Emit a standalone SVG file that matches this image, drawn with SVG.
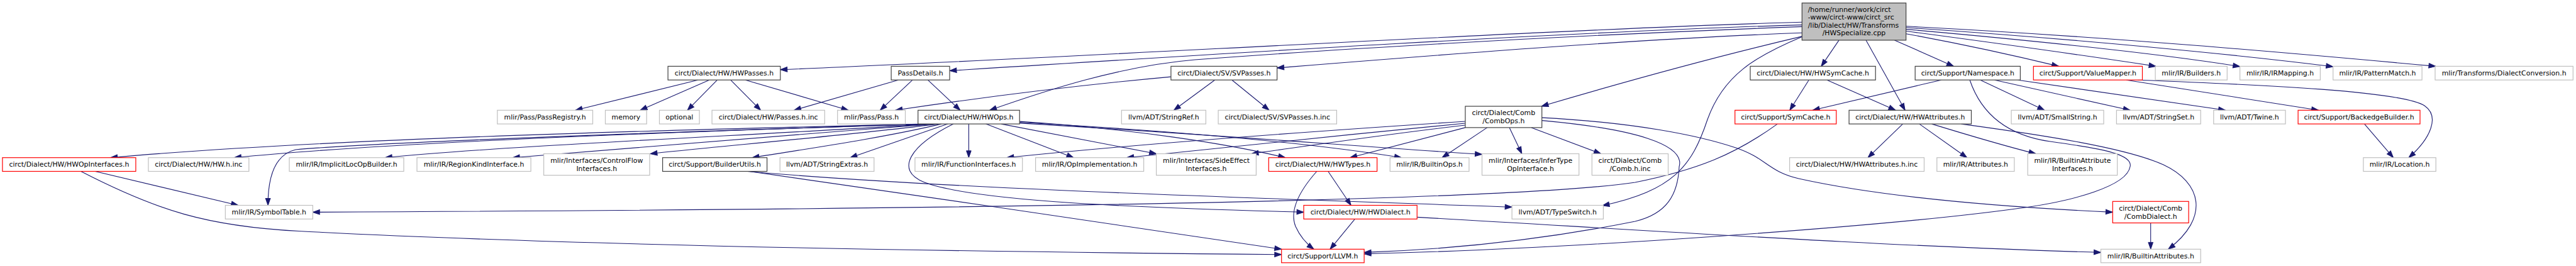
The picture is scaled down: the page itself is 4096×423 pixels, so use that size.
<svg xmlns="http://www.w3.org/2000/svg" width="4096" height="423" viewBox="0 0 4096 423">
<defs>
<style>
.e{fill:none;stroke:#191970;stroke-width:1.1;marker-end:url(#ah)}
rect{fill:#fff;stroke-width:1.2}
.g rect{stroke:#bfbfbf}
.b rect{stroke:#404040}
.r rect{stroke:#ff0000}
.top rect{fill:#bfbfbf;stroke:#404040}
text{font-family:"DejaVu Sans","Liberation Sans",sans-serif;font-size:10.9px;fill:#000;text-anchor:middle}
.l{text-anchor:start}
</style>
<marker id="ah" markerWidth="12" markerHeight="9" refX="10.9" refY="3.8" orient="auto" markerUnits="userSpaceOnUse" overflow="visible"><path d="M0,0L10.9,3.8L0,7.6z" fill="#191970" stroke="#191970" stroke-width="1"/></marker>
</defs>
<rect x="0" y="0" width="4096" height="423" fill="#fff" stroke="none"/>
<g id="edges">
<path class="e" d="M2924.1,63.9 L2895.9,105.4"/>
<path class="e" d="M2967.1,63.9 L3029.2,175.3"/>
<path class="e" d="M3012.5,63.9 L3106.4,105.4"/>
<path class="e" d="M3030.7,53.7 C3120,70 3210,90 3273.5,105.4"/>
<path class="e" d="M3030.7,49.5 C3200,72 3340,92 3428,105.4"/>
<path class="e" d="M3030.7,46.6 C3250,66 3450,88 3561.6,105.8"/>
<path class="e" d="M3030.7,43.8 C3300,62 3550,86 3709.7,106"/>
<path class="e" d="M3030.7,41.8 C3350,58 3650,85 3872.9,105.4"/>
<path class="e" d="M2865.3,35.3 C2500,45 1700,92 1240.8,110.8"/>
<path class="e" d="M2865.3,39.6 C2500,50 1900,88 1510,112.5"/>
<path class="e" d="M2865.3,42.4 C2450,58 2100,80 1900,95 C1780,105 1660,145 1573.7,175.3"/>
<path class="e" d="M2865.3,52.3 C2600,62 2280,88 2030.6,108"/>
<path class="e" d="M2865.3,57.9 C2750,85 2600,125 2451,169"/>
<path class="e" d="M2865.3,58.5 C2790,90 2740,120 2715,190 C2690,265 2660,303 2548,327"/>
<path class="e" d="M1109.6,127.2 L915,175.3"/>
<path class="e" d="M1127.8,127.2 L1018,175.3"/>
<path class="e" d="M1140.5,127.2 L1093,175.3"/>
<path class="e" d="M1161.7,127.2 L1209.6,175.3"/>
<path class="e" d="M1185.3,127.2 L1348.9,175.3"/>
<path class="e" d="M1451,127.2 L1399.5,175.3"/>
<path class="e" d="M1475.3,127.2 L1526.7,175.3"/>
<path class="e" d="M1428.3,127.2 L1262.6,175.3"/>
<path class="e" d="M1861.9,122.1 C1720,135 1560,155 1423.8,175.3"/>
<path class="e" d="M1931.6,127.2 L1866.5,175.3"/>
<path class="e" d="M1958.9,127.2 L2018,175.3"/>
<path class="e" d="M2876.2,127.2 L2845.9,175.3"/>
<path class="e" d="M2905,127.2 L3014,175.3"/>
<path class="e" d="M3086.7,127.2 L2882.3,175.3"/>
<path class="e" d="M3148.8,127.2 L3250.8,175.3"/>
<path class="e" d="M3171.5,127.2 L3387.1,175.3"/>
<path class="e" d="M3208.4,127.2 L3538.5,175.3"/>
<path class="e" d="M3132.1,127.2 C3150,180 3190,215 3260,225 C3340,236 3392,245 3387,265 C3382,295 3300,320 3205,332 C3000,360 2500,396 2169.1,403.6"/>
<path class="e" d="M3025.5,197.1 L2970.1,250.7"/>
<path class="e" d="M3051.9,197.1 L3127.6,250.7"/>
<path class="e" d="M3071.6,197.1 C3130,215 3180,230 3237,244.5"/>
<path class="e" d="M3118.5,197.1 C3250,215 3380,235 3440,262 C3500,290 3515,345 3447.7,396.3"/>
<path class="e" d="M1470,197.1 C1000,208 500,222 175.7,250.7"/>
<path class="e" d="M1475,197.1 C1000,212 600,228 372.5,250.7"/>
<path class="e" d="M1478,197.1 C1000,212 600,226 470,238 C440,245 426,275 426.1,326.5"/>
<path class="e" d="M1482,197.1 C1200,215 800,232 612.4,250.7"/>
<path class="e" d="M1487,197.1 C1250,215 1000,235 815.3,250.7"/>
<path class="e" d="M1492,197.1 C1350,215 1150,232 1034,244.5"/>
<path class="e" d="M1497,197.1 C1400,220 1280,237 1196,250.7"/>
<path class="e" d="M1507,197.1 L1351.9,250.7"/>
<path class="e" d="M1540.4,197.1 L1540.4,250.7"/>
<path class="e" d="M1567.6,197.1 L1707,250.7"/>
<path class="e" d="M1591.9,197.1 L1838.6,244.5"/>
<path class="e" d="M1621.2,193.1 C1800,205 1950,228 2043.7,250.7"/>
<path class="e" d="M1621.2,194.5 C1900,210 2100,230 2228.4,250.7"/>
<path class="e" d="M1621.2,195.9 C1900,212 2150,232 2356.5,245.5"/>
<path class="e" d="M1516,197.1 C1450,230 1420,270 1470,290 C1550,320 1800,330 2073,337.4"/>
<path class="e" d="M1188.4,272.5 C1500,300 2000,315 2404.1,329.3"/>
<path class="e" d="M1191.4,272.5 C1450,310 1800,360 2037.7,396.3"/>
<path class="e" d="M151.4,272.5 L378.6,326.5"/>
<path class="e" d="M128.7,272.5 C250,335 330,360 474.9,367.5 C900,390 1500,400 2037.7,404.8"/>
<path class="e" d="M2826.2,197.1 C2760,245 2700,270 2600,290 C2400,320 1500,333 497.3,337.4"/>
<path class="e" d="M2364.7,202.9 L2293,250.7"/>
<path class="e" d="M2400.1,202.9 L2419.8,244.5"/>
<path class="e" d="M2435,202.9 L2545.5,244.5"/>
<path class="e" d="M2329.9,193 C2100,208 1800,230 1601,250.7"/>
<path class="e" d="M2329.9,196 C2150,213 1950,235 1791.7,250.7"/>
<path class="e" d="M2329.9,199 C2200,214 2080,232 1990,244.5"/>
<path class="e" d="M2329.9,202.9 L2146.7,250.7"/>
<path class="e" d="M2451.7,187.1 C2600,195 2700,215 2760,235 C2810,252 2810,272 2860,284 C3000,315 3200,330 3359.3,337.4"/>
<path class="e" d="M2451.7,191.6 C2600,205 2680,230 2670,265 C2668,310 2650,340 2600,352 C2500,372 2350,395 2169.1,401.4"/>
<path class="e" d="M2111.8,272.5 L2148.2,326.5"/>
<path class="e" d="M2093.7,272.5 C2065,305 2050,335 2060,360 C2068,378 2078,388 2089.1,396.3"/>
<path class="e" d="M2154.3,348.3 L2114.9,396.3"/>
<path class="e" d="M2253.2,345.4 C2600,365 3000,392 3340.5,401.4"/>
<path class="e" d="M3419.7,354.5 L3419.7,396.3"/>
<path class="e" d="M3381.1,127.2 L3686.5,175.3"/>
<path class="e" d="M3399.2,127.2 C3600,135 3820,145 3855,168 C3880,185 3865,220 3830,250.7"/>
<path class="e" d="M3759.6,197.1 L3805.5,250.7"/>
</g>
<g id="n-top" class="top"><rect x="2865.3" y="4.8" width="165.4" height="59.1"/><text class="l" x="2874.7" y="18.5">/home/runner/work/circt</text><text class="l" x="2874.7" y="31">-www/circt-www/circt_src</text><text class="l" x="2874.7" y="43.5">/lib/Dialect/HW/Transforms</text><text x="2948" y="56">/HWSpecialize.cpp</text></g>
<g id="n-hwpasses" class="b"><rect x="1062.1" y="105.4" width="178.7" height="21.8"/><text x="1151.45" y="120.1">circt/Dialect/HW/HWPasses.h</text></g>
<g id="n-passdetails" class="b"><rect x="1417.1" y="105.4" width="92.9" height="21.8"/><text x="1463.55" y="120.1">PassDetails.h</text></g>
<g id="n-svpasses" class="b"><rect x="1861.9" y="105.4" width="168.7" height="21.8"/><text x="1946.25" y="120.1">circt/Dialect/SV/SVPasses.h</text></g>
<g id="n-hwsymcache" class="b"><rect x="2783" y="105.4" width="199.2" height="21.8"/><text x="2882.6" y="120.1">circt/Dialect/HW/HWSymCache.h</text></g>
<g id="n-namespace" class="b"><rect x="3045.2" y="105.4" width="167.2" height="21.8"/><text x="3128.8" y="120.1">circt/Support/Namespace.h</text></g>
<g id="n-valuemapper" class="r"><rect x="3233.3" y="105.4" width="173.2" height="21.8"/><text x="3319.9" y="120.1">circt/Support/ValueMapper.h</text></g>
<g id="n-builders" class="g"><rect x="3427.1" y="105.4" width="114.2" height="21.8"/><text x="3484.2" y="120.1">mlir/IR/Builders.h</text></g>
<g id="n-irmapping" class="g"><rect x="3561.6" y="105.4" width="127.8" height="21.8"/><text x="3625.5" y="120.1">mlir/IR/IRMapping.h</text></g>
<g id="n-patternmatch" class="g"><rect x="3709.7" y="105.4" width="141.4" height="21.8"/><text x="3780.4" y="120.1">mlir/IR/PatternMatch.h</text></g>
<g id="n-dialectconversion" class="g"><rect x="3872" y="105.4" width="219.3" height="21.8"/><text x="3981.65" y="120.1">mlir/Transforms/DialectConversion.h</text></g>
<g id="n-passregistry" class="g"><rect x="790.8" y="175.3" width="151.7" height="21.8"/><text x="866.65" y="190">mlir/Pass/PassRegistry.h</text></g>
<g id="n-memory" class="g"><rect x="962.5" y="175.3" width="65.7" height="21.8"/><text x="995.35" y="190">memory</text></g>
<g id="n-optional" class="g"><rect x="1048.5" y="175.3" width="63.6" height="21.8"/><text x="1080.3" y="190">optional</text></g>
<g id="n-passesinc" class="g"><rect x="1132.1" y="175.3" width="179.2" height="21.8"/><text x="1221.7" y="190">circt/Dialect/HW/Passes.h.inc</text></g>
<g id="n-pass" class="g"><rect x="1331.7" y="175.3" width="107.8" height="21.8"/><text x="1385.6" y="190">mlir/Pass/Pass.h</text></g>
<g id="n-hwops" class="b"><rect x="1459.7" y="175.3" width="161.5" height="21.8"/><text x="1540.45" y="190">circt/Dialect/HW/HWOps.h</text></g>
<g id="n-stringref" class="g"><rect x="1783.3" y="175.3" width="134.1" height="21.8"/><text x="1850.35" y="190">llvm/ADT/StringRef.h</text></g>
<g id="n-svpassesinc" class="g"><rect x="1937.1" y="175.3" width="188.3" height="21.8"/><text x="2031.25" y="190">circt/Dialect/SV/SVPasses.h.inc</text></g>
<g id="n-combops" class="b"><rect x="2329.9" y="169" width="121.8" height="33.9"/><text x="2390.8" y="183.4">circt/Dialect/Comb</text><text x="2390.8" y="196.1">/CombOps.h</text></g>
<g id="n-symcache" class="r"><rect x="2758.7" y="175.3" width="161.1" height="21.8"/><text x="2839.25" y="190">circt/Support/SymCache.h</text></g>
<g id="n-hwattributes" class="b"><rect x="2940.1" y="175.3" width="194.4" height="21.8"/><text x="3037.3" y="190">circt/Dialect/HW/HWAttributes.h</text></g>
<g id="n-smallstring" class="g"><rect x="3198.1" y="175.3" width="146.9" height="21.8"/><text x="3271.55" y="190">llvm/ADT/SmallString.h</text></g>
<g id="n-stringset" class="g"><rect x="3365.4" y="175.3" width="133.8" height="21.8"/><text x="3432.3" y="190">llvm/ADT/StringSet.h</text></g>
<g id="n-twine" class="g"><rect x="3519.8" y="175.3" width="114.2" height="21.8"/><text x="3576.9" y="190">llvm/ADT/Twine.h</text></g>
<g id="n-backedgebuilder" class="r"><rect x="3654.1" y="175.3" width="193.9" height="21.8"/><text x="3751.05" y="190">circt/Support/BackedgeBuilder.h</text></g>
<g id="n-hwopinterfaces" class="r"><rect x="3.9" y="250.7" width="212" height="21.8"/><text x="109.9" y="265.4">circt/Dialect/HW/HWOpInterfaces.h</text></g>
<g id="n-hwinc" class="g"><rect x="235.9" y="250.7" width="159.9" height="21.8"/><text x="315.85" y="265.4">circt/Dialect/HW/HW.h.inc</text></g>
<g id="n-implicitloc" class="g"><rect x="460" y="250.7" width="182" height="21.8"/><text x="551" y="265.4">mlir/IR/ImplicitLocOpBuilder.h</text></g>
<g id="n-regionkind" class="g"><rect x="663" y="250.7" width="181.1" height="21.8"/><text x="753.55" y="265.4">mlir/IR/RegionKindInterface.h</text></g>
<g id="n-controlflow" class="g"><rect x="864.6" y="244.5" width="168.4" height="34.2"/><text x="948.8" y="259">mlir/Interfaces/ControlFlow</text><text x="948.8" y="271.7">Interfaces.h</text></g>
<g id="n-builderutils" class="b"><rect x="1053.6" y="250.7" width="166" height="21.8"/><text x="1136.6" y="265.4">circt/Support/BuilderUtils.h</text></g>
<g id="n-stringextras" class="g"><rect x="1240.2" y="250.7" width="149.6" height="21.8"/><text x="1315" y="265.4">llvm/ADT/StringExtras.h</text></g>
<g id="n-functioninterfaces" class="g"><rect x="1454.9" y="250.7" width="170.8" height="21.8"/><text x="1540.3" y="265.4">mlir/IR/FunctionInterfaces.h</text></g>
<g id="n-opimplementation" class="g"><rect x="1646.6" y="250.7" width="172" height="21.8"/><text x="1732.6" y="265.4">mlir/IR/OpImplementation.h</text></g>
<g id="n-sideeffect" class="g"><rect x="1838.6" y="244.5" width="158.8" height="34.2"/><text x="1918" y="259">mlir/Interfaces/SideEffect</text><text x="1918" y="271.7">Interfaces.h</text></g>
<g id="n-hwtypes" class="r"><rect x="2017.3" y="250.7" width="172.3" height="21.8"/><text x="2103.45" y="265.4">circt/Dialect/HW/HWTypes.h</text></g>
<g id="n-builtinops" class="g"><rect x="2210.2" y="250.7" width="125.7" height="21.8"/><text x="2273.05" y="265.4">mlir/IR/BuiltinOps.h</text></g>
<g id="n-infertype" class="g"><rect x="2356.5" y="244.5" width="154.2" height="34.2"/><text x="2433.6" y="259">mlir/Interfaces/InferType</text><text x="2433.6" y="271.7">OpInterface.h</text></g>
<g id="n-combinc" class="g"><rect x="2531.3" y="244.5" width="121.2" height="34.2"/><text x="2591.9" y="259">circt/Dialect/Comb</text><text x="2591.9" y="271.7">/Comb.h.inc</text></g>
<g id="n-hwattributesinc" class="g"><rect x="2845.6" y="250.7" width="213.9" height="21.8"/><text x="2952.55" y="265.4">circt/Dialect/HW/HWAttributes.h.inc</text></g>
<g id="n-attributes" class="g"><rect x="3079.8" y="250.7" width="123.1" height="21.8"/><text x="3141.35" y="265.4">mlir/IR/Attributes.h</text></g>
<g id="n-builtinattrif" class="g"><rect x="3224.2" y="244.5" width="142.4" height="34.2"/><text x="3295.4" y="259">mlir/IR/BuiltinAttribute</text><text x="3295.4" y="271.7">Interfaces.h</text></g>
<g id="n-location" class="g"><rect x="3757.9" y="250.7" width="115.3" height="21.8"/><text x="3815.55" y="265.4">mlir/IR/Location.h</text></g>
<g id="n-symboltable" class="g"><rect x="358.3" y="326.5" width="139" height="21.8"/><text x="427.8" y="341.2">mlir/IR/SymbolTable.h</text></g>
<g id="n-hwdialect" class="r"><rect x="2073" y="326.5" width="180.2" height="21.8"/><text x="2163.1" y="341.2">circt/Dialect/HW/HWDialect.h</text></g>
<g id="n-typeswitch" class="g"><rect x="2404.1" y="326.5" width="145.3" height="21.8"/><text x="2476.75" y="341.2">llvm/ADT/TypeSwitch.h</text></g>
<g id="n-combdialect" class="r"><rect x="3359.3" y="320.3" width="120.8" height="34.2"/><text x="3419.7" y="334.8">circt/Dialect/Comb</text><text x="3419.7" y="347.5">/CombDialect.h</text></g>
<g id="n-llvm" class="r"><rect x="2037.7" y="396.3" width="131.4" height="21.5"/><text x="2103.4" y="410.9">circt/Support/LLVM.h</text></g>
<g id="n-builtinattributes" class="g"><rect x="3340.5" y="396.3" width="158.7" height="21.5"/><text x="3419.85" y="410.9">mlir/IR/BuiltinAttributes.h</text></g>
</svg>
